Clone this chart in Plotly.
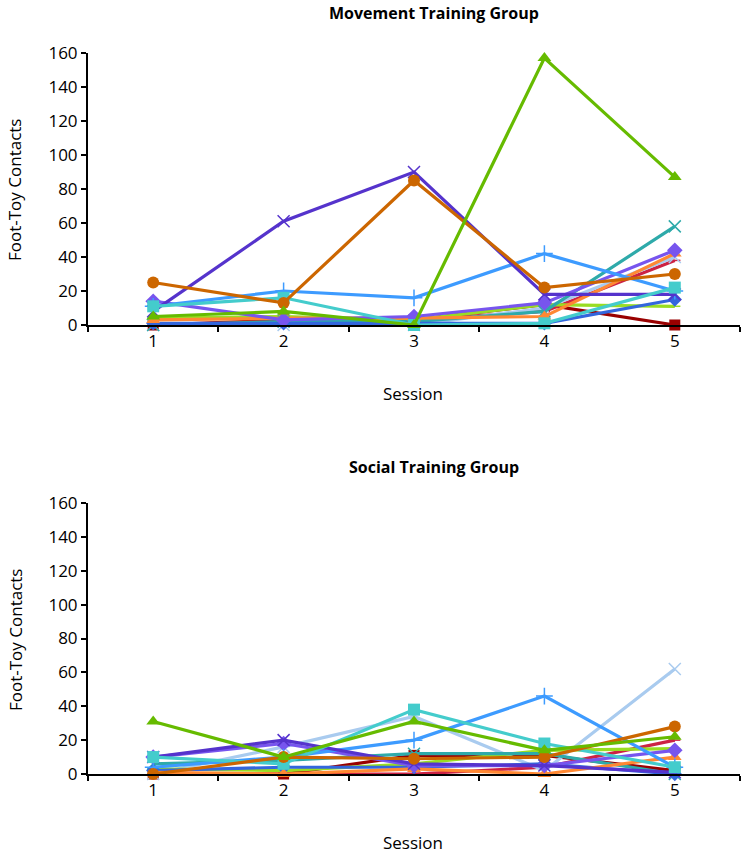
import plotly.graph_objects as go

sessions = ["1", "2", "3", "4", "5"]

# Movement Training Group (top)
mov_darkred_sq = [0, 3, 3, 12, 0]
mov_orange_circ = [25, 13, 85, 22, 30]
mov_green_tri = [5, 8, 0, 157, 87]
mov_purple_x = [8, 61, 90, 18, 18]
mov_blue_plus = [11, 20, 16, 42, 20]
mov_cyan_sq = [11, 16, 0, 1, 22]
mov_teal_x = [0, 2, 2, 8, 58]
mov_violet_dia = [14, 3, 5, 13, 44]
mov_orange_tri = [3, 4, 4, 5, 42]
mov_red = [0, 2, 3, 8, 38]
mov_lightblue_x = [0, 0, 0, 10, 40]
mov_lime = [4, 5, 3, 12, 11]
mov_blue_dia = [1, 1, 1, 1, 15]

# Social Training Group (bottom)
soc_darkred_sq = [0, 0, 11, 11, 2]
soc_orange_circ = [0, 10, 9, 10, 28]
soc_green_tri = [31, 10, 31, 14, 22]
soc_purple_x = [10, 20, 6, 5, 1]
soc_blue_plus = [4, 10, 20, 46, 4]
soc_cyan_sq = [10, 6, 38, 18, 4]
soc_teal_x = [6, 8, 12, 12, 0]
soc_violet_dia = [10, 18, 5, 5, 14]
soc_orange_tri = [1, 0, 3, 0, 10]
soc_red = [0, 0, 0, 4, 20]
soc_lightblue_x = [0, 16, 34, 2, 62]
soc_lime = [3, 2, 6, 14, 15]
soc_blue_dia = [2, 4, 4, 6, 0]

styles = [
    ("darkred_sq", "#990000", "square", 11),
    ("red", "#CC2244", "line-ew", 8),
    ("lightblue_x", "#A9CBEF", "x-thin", 12),
    ("lime", "#99DD22", "line-ew", 8),
    ("teal_x", "#2EAAAA", "x-thin", 12),
    ("blue_dia", "#3366DD", "diamond", 11),
    ("orange_tri", "#FF8833", "triangle-up", 12),
    ("violet_dia", "#7755EE", "diamond", 12),
    ("blue_plus", "#3D9BFF", "cross-thin", 12),
    ("purple_x", "#5533CC", "x-thin", 12),
    ("cyan_sq", "#44CCCC", "square", 12),
    ("orange_circ", "#CC6600", "circle", 12),
    ("green_tri", "#66BB00", "triangle-up", 12),
]

data = {
    "mov": {
        "darkred_sq": mov_darkred_sq, "orange_circ": mov_orange_circ, "green_tri": mov_green_tri,
        "purple_x": mov_purple_x, "blue_plus": mov_blue_plus, "cyan_sq": mov_cyan_sq,
        "teal_x": mov_teal_x, "violet_dia": mov_violet_dia, "orange_tri": mov_orange_tri,
        "red": mov_red, "lightblue_x": mov_lightblue_x, "lime": mov_lime, "blue_dia": mov_blue_dia,
    },
    "soc": {
        "darkred_sq": soc_darkred_sq, "orange_circ": soc_orange_circ, "green_tri": soc_green_tri,
        "purple_x": soc_purple_x, "blue_plus": soc_blue_plus, "cyan_sq": soc_cyan_sq,
        "teal_x": soc_teal_x, "violet_dia": soc_violet_dia, "orange_tri": soc_orange_tri,
        "red": soc_red, "lightblue_x": soc_lightblue_x, "lime": soc_lime, "blue_dia": soc_blue_dia,
    },
}

fig = go.Figure()
for grp, xa, ya in [("mov", "x", "y"), ("soc", "x2", "y2")]:
    for key, color, sym, size in styles:
        thin = sym.endswith("-thin") or sym.startswith("line")
        fig.add_trace(go.Scatter(
            x=sessions, y=data[grp][key], mode="lines+markers", xaxis=xa, yaxis=ya,
            line=dict(color=color, width=3.2),
            marker=dict(symbol=sym, size=size, color=color,
                        line=dict(color=color, width=1.5 if thin else 0)),
            cliponaxis=False, showlegend=False,
        ))

H = 853
W = 744
L = 88
R = W - 740
PW = W - L - R
font = "Open Sans"

def px_x(x):
    return (x - L) / PW

def px_y(y):
    return 1 - y / H

def yax(top, bottom):
    return dict(domain=[px_y(bottom), px_y(top)], range=[0, 160], tickvals=list(range(0, 161, 20)),
                showline=True, linecolor="black", linewidth=2, ticks="outside", ticklen=5,
                tickwidth=2, tickcolor="black", showgrid=False, zeroline=False, automargin=False,
                tickfont=dict(family=font, size=17, color="black"))

def xax(anchor):
    return dict(type="category", anchor=anchor, domain=[0, 1], showline=True, linecolor="black", linewidth=2,
                ticks="outside", tickson="boundaries", ticklen=5, tickwidth=2, tickcolor="black",
                showgrid=False, zeroline=False, range=[-0.5, 4.5], automargin=False,
                tickfont=dict(family=font, size=17, color="black"))

def txt(text, x, y, size, angle=0):
    return dict(text=text, x=px_x(x), y=px_y(y), xref="paper", yref="paper", textangle=angle,
                xanchor="center", yanchor="middle", showarrow=False,
                font=dict(family=font, size=size, color="black"))

fig.update_layout(
    width=W, height=H, plot_bgcolor="white", paper_bgcolor="white",
    margin=dict(l=L, r=R, t=0, b=0, autoexpand=False),
    xaxis=xax("y"), yaxis=yax(53, 325),
    xaxis2=xax("y2"), yaxis2=yax(503, 774),
    annotations=[
        txt("<b>Movement Training Group</b>", 434, 13, 16),
        txt("<b>Social Training Group</b>", 434, 467, 16),
        txt("Session", 413, 393, 17),
        txt("Session", 413, 842, 17),
        txt("Foot-Toy Contacts", 15, 190, 17, -90),
        txt("Foot-Toy Contacts", 15, 640, 17, -90),
    ],
)

fig.write_html("out.html", config={"displayModeBar": False},
               post_script="document.body.style.margin='0';document.body.style.padding='0';")
